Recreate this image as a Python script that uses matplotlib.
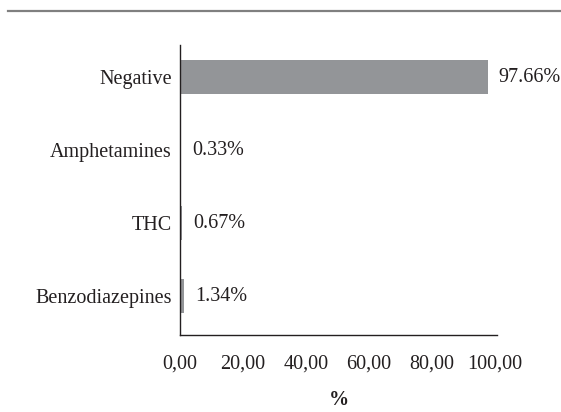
import matplotlib
matplotlib.use('Agg')
from matplotlib import pyplot as plt
from matplotlib.lines import Line2D
import numpy as np

# Data
categories = ['Negative', 'Amphetamines', 'THC', 'Benzodiazepines']
values = [97.66, 0.33, 0.67, 1.34]
value_labels = ['97.66%', '0.33%', '0.67%', '1.34%']
xticks = [0, 20, 40, 60, 80, 100]

plt.rcParams['font.family'] = ['Liberation Serif', 'DejaVu Serif']
plt.rcParams['font.size'] = 14.5
text_color = '#231f20'

fig = plt.figure(figsize=(5.61, 4.12), dpi=100)
ax = fig.add_axes([180 / 561, 1 - 335 / 412, 317 / 561, 290 / 412])

y = np.arange(len(categories))
bars = ax.barh(y, values, height=0.47, color='#939598')
ax.bar_label(bars, labels=value_labels, padding=8, color=text_color)

ax.set_yticks(y)
ax.set_yticklabels(categories, color=text_color)
ax.set_ylim(3.53, -0.44)

ax.set_xlim(0, 100.6)
ax.set_xticks(xticks)
# comma decimal separator on the axis
ax.set_xticklabels([('%.2f' % t).replace('.', ',') for t in xticks], color=text_color)
ax.tick_params(axis='x', length=0, pad=14)
ax.tick_params(axis='y', length=0, pad=6)
ax.set_xlabel('%', fontweight='bold', labelpad=12, color=text_color)

for side in ['top', 'right']:
    ax.spines[side].set_visible(False)
for side in ['left', 'bottom']:
    ax.spines[side].set_color(text_color)
    ax.spines[side].set_linewidth(1.0)

# Rule at the top of the figure
fig.add_artist(Line2D([8 / 561, 1], [1 - 11 / 412, 1 - 11 / 412],
                      transform=fig.transFigure, color='#808080', linewidth=1.6))

plt.savefig('out.png', dpi=100)
